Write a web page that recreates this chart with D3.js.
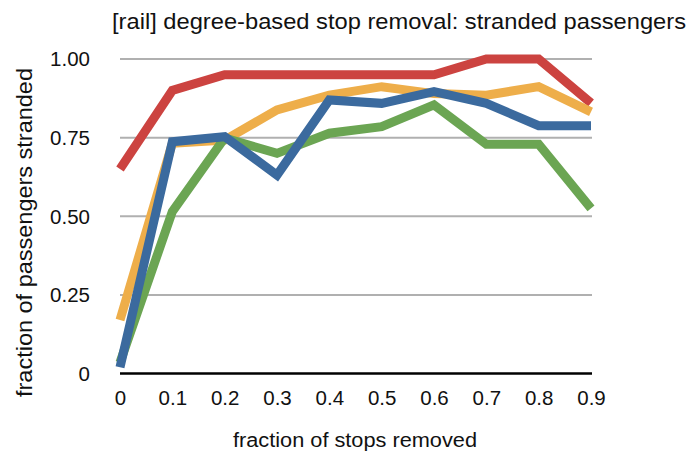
<!DOCTYPE html>
<html><head><meta charset="utf-8">
<script src="https://cdn.jsdelivr.net/npm/d3@7"></script>
<style>body{margin:0;background:#fff;} text{font-family:"Liberation Sans",Arial,Helvetica,sans-serif;}</style>
</head><body>
<svg id="c" width="697" height="453"></svg>
<script>
const xValues = [0, 0.1, 0.2, 0.3, 0.4, 0.5, 0.6, 0.7, 0.8, 0.9];
const xTickLabels = ["0","0.1","0.2","0.3","0.4","0.5","0.6","0.7","0.8","0.9"];
const yTicks = [0, 0.25, 0.5, 0.75, 1.0];
const yTickLabels = ["0","0.25","0.50","0.75","1.00"];
const redSeries    = [0.65, 0.90, 0.95, 0.95, 0.95, 0.95, 0.95, 1.00, 1.00, 0.86];
const orangeSeries = [0.17, 0.732, 0.742, 0.838, 0.885, 0.912, 0.89, 0.885, 0.912, 0.832];
const greenSeries  = [0.035, 0.515, 0.749, 0.70, 0.764, 0.785, 0.854, 0.729, 0.729, 0.525];
const blueSeries   = [0.02, 0.737, 0.753, 0.631, 0.87, 0.859, 0.896, 0.859, 0.788, 0.788];
const seriesList = [
  {values: redSeries, color: "#cc4340"},
  {values: orangeSeries, color: "#eeae4a"},
  {values: greenSeries, color: "#6ba553"},
  {values: blueSeries, color: "#3b6a9e"}
];

const svg = d3.select("#c");
const x = d3.scalePoint().domain(xValues).range([120, 591]);
const y = d3.scaleLinear().domain([0, 1]).range([373.5, 59]);
const FONT = '"Liberation Sans",Arial,Helvetica,sans-serif';

// gridlines
svg.append("g").selectAll("line").data(yTicks.filter(d => d > 0)).join("line")
  .attr("x1", 120).attr("x2", 592)
  .attr("y1", d => y(d)).attr("y2", d => y(d))
  .attr("stroke", "#b0b0b0").attr("stroke-width", 2);

// y tick labels
svg.append("g").selectAll("text").data(yTicks).join("text")
  .attr("x", 90).attr("y", d => y(d)).attr("dy", "0.36em")
  .attr("text-anchor", "end").attr("font-size", 20.5).attr("fill", "#111")
  .text((d, i) => yTickLabels[i]);

// x axis
const xAxis = d3.axisBottom(x).tickSize(0).tickPadding(17).tickFormat((d, i) => xTickLabels[i]);
const gx = svg.append("g").attr("transform", `translate(0,${y(0)})`).call(xAxis);
gx.select(".domain").remove();
gx.selectAll("text").attr("font-size", 20.5).attr("fill", "#111").style("font-family", FONT);
svg.append("line").attr("x1", 120).attr("x2", 592).attr("y1", y(0)).attr("y2", y(0))
  .attr("stroke", "#000").attr("stroke-width", 2.5);

// lines
const line = d3.line().x((d, i) => x(xValues[i])).y(d => y(d));
svg.append("g").selectAll("path").data(seriesList).join("path")
  .attr("d", d => line(d.values))
  .attr("fill", "none").attr("stroke", d => d.color)
  .attr("stroke-width", 9).attr("stroke-linejoin", "miter");

// titles
svg.append("text").attr("x", 399).attr("y", 29).attr("text-anchor", "middle")
  .attr("font-size", 22.5).attr("fill", "#111")
  .attr("textLength", 574).attr("lengthAdjust", "spacingAndGlyphs")
  .text("[rail] degree-based stop removal: stranded passengers");
svg.append("text").attr("x", 355).attr("y", 446.5).attr("text-anchor", "middle")
  .attr("font-size", 20).attr("fill", "#111")
  .attr("textLength", 244).attr("lengthAdjust", "spacingAndGlyphs")
  .text("fraction of stops removed");
svg.append("text").attr("transform", "translate(32,232.5) rotate(-90)").attr("text-anchor", "middle")
  .attr("font-size", 22).attr("fill", "#111")
  .attr("textLength", 329).attr("lengthAdjust", "spacingAndGlyphs")
  .text("fraction of passengers stranded");
</script>
</body></html>
